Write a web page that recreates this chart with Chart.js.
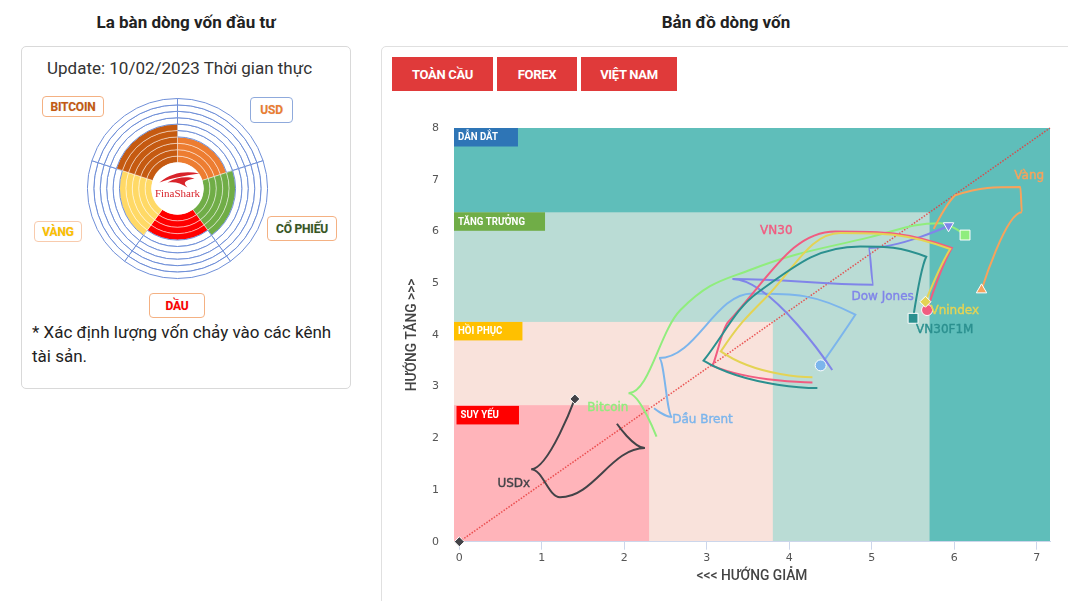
<!DOCTYPE html>
<html lang="vi">
<head>
<meta charset="utf-8">
<title>Bản đồ dòng vốn</title>
<script src="https://cdn.jsdelivr.net/npm/chart.js@4.4.1/dist/chart.umd.min.js"></script>
<style>
  html, body { margin: 0; padding: 0; background: #fff; }
  body { width: 1068px; height: 601px; overflow: hidden; position: relative; font-family: Roboto, "Noto Sans", sans-serif; color: #222; }
  .title { position: absolute; top: 12px; font-size: 17px; font-weight: 700; color: #222; text-align: center; }
  .panel { position: absolute; border: 1px solid #d9d9d9; border-radius: 5px; box-sizing: border-box; }
  .tag { position: absolute; box-sizing: border-box; border: 1.5px solid #f4b183; border-radius: 4px; background: #fff;
         font-size: 12px; font-weight: 700; display: flex; align-items: center; justify-content: center; letter-spacing: -0.2px;
         text-shadow: 0 0 1px rgba(0,0,0,.2); }
  .btn { position: absolute; top: 57px; height: 34px; background: #e03a3a; color: #fff; font-size: 13px; font-weight: 700;
         display: flex; align-items: center; justify-content: center; letter-spacing: -0.3px; }
  canvas { position: absolute; }
</style>
</head>
<body>
<div class="title" style="left:21px;width:330px">La bàn dòng vốn đầu tư</div>
<div class="title" style="left:381px;width:690px">Bản đồ dòng vốn</div>

<div class="panel" style="left:21px;top:46px;width:330px;height:343px"></div>
<div style="position:absolute;left:47px;top:58px;font-size:17px;color:#333">Update: 10/02/2023 Thời gian thực</div>
<canvas id="compass" width="181" height="181" style="left:87px;top:98px"></canvas>
<div class="tag" style="left:42px;top:96px;width:62px;height:21px;color:#c55a11">BITCOIN</div>
<div class="tag" style="left:250px;top:97px;width:43px;height:26px;color:#ed7d31;border-color:#8faadc">USD</div>
<div class="tag" style="left:267px;top:216px;width:70px;height:25px;color:#375623">CỔ PHIẾU</div>
<div class="tag" style="left:149px;top:293px;width:56px;height:25px;color:#ff0000">DẦU</div>
<div class="tag" style="left:34px;top:221px;width:48px;height:21px;color:#ffc000;border-color:#f8cbad">VÀNG</div>
<div style="position:absolute;left:32px;top:320px;font-size:17px;line-height:24px;color:#222">* Xác định lượng vốn chảy vào các kênh<br>tài sản.</div>

<div class="panel" style="left:381px;top:46px;width:700px;height:600px;border-color:#e0e0e0"></div>
<div class="btn" style="left:392px;width:101px">TOÀN CẦU</div>
<div class="btn" style="left:497px;width:80px">FOREX</div>
<div class="btn" style="left:581px;width:96px">VIỆT NAM</div>
<canvas id="flow" width="687" height="501" style="left:381px;top:100px"></canvas>

<script>
// ---- compass data ----
const compassLabels = ['USD', 'CỔ PHIẾU', 'DẦU', 'VÀNG', 'BITCOIN'];
const compassLevels = [4, 5, 4, 5, 6];
const compassRingCount = 10;
const compassColors = ['#ed7d31', '#70ad47', '#ff0000', '#ffd966', '#c55a11'];

// ---- flow map data ----
const xTicks = [0, 1, 2, 3, 4, 5, 6, 7];
const yTicks = [0, 1, 2, 3, 4, 5, 6, 7, 8];
const xMin = -0.065, xMax = 7.16, yMin = 0, yMax = 8;

const zoneNames = ['DẪN DẮT', 'TĂNG TRƯỞNG', 'HỒI PHỤC', 'SUY YẾU'];
const zoneXMax = [7.16, 5.7, 3.8, 2.3];
const zoneYMax = [8, 6.37, 4.25, 2.64];

const diagonal = [[0, 0], [7.16, 8]];

const seriesNames = ['Dầu Brent', 'USDx', 'Bitcoin', 'Vàng', 'Dow Jones', 'VN30', 'Vnindex', 'VN30F1M'];
const dauBrent = [[2.36, 2.58], [2.58, 2.41], [2.42, 3.55], [3.55, 4.80], [4.80, 4.39], [4.38, 3.41]];
const usdx     = [[1.91, 2.28], [2.25, 1.81], [1.22, 0.86], [0.87, 1.40], [1.40, 2.76]];
const bitcoin  = [[2.39, 2.03], [2.05, 2.87], [2.68, 4.48], [3.53, 5.26], [4.98, 5.89], [5.83, 6.16], [6.13, 5.93]];
const vang     = [[5.75, 6.05], [6.01, 6.70], [6.80, 6.86], [6.82, 6.37], [6.33, 4.87]];
const dowJones = [[4.52, 3.32], [3.31, 5.08], [5.02, 4.97], [4.96, 5.68], [5.93, 6.11]];
const vn30     = [[4.28, 3.08], [3.07, 3.40], [3.26, 4.25], [4.56, 6.00], [5.97, 5.68], [5.67, 4.48]];
const vnindex  = [[4.28, 3.18], [3.17, 3.68], [3.69, 4.68], [4.62, 5.97], [5.95, 5.66], [5.65, 4.64]];
const vn30f1m  = [[4.34, 2.97], [2.96, 3.50], [3.61, 4.81], [4.86, 5.71], [5.66, 5.51], [5.50, 4.32]];
const seriesData = [dauBrent, usdx, bitcoin, vang, dowJones, vn30, vnindex, vn30f1m];

// styles (kept apart from the values)
const seriesColors = ['#7cb5ec', '#434348', '#90ed7d', '#f7a35c', '#8085e9', '#f15c80', '#e4d354', '#2b908f'];
const markerStyle = [
  { style: 'circle', r: 5.5, rot: 0 }, { style: 'rectRot', r: 5, rot: 0 }, { style: 'rect', r: 7, rot: 0 },
  { style: 'triangle', r: 6, rot: 0 }, { style: 'triangle', r: 6, rot: 180 }, { style: 'circle', r: 5.5, rot: 0 },
  { style: 'rectRot', r: 5.5, rot: 0 }, { style: 'rect', r: 7, rot: 0 }
];
// label anchored to a point index, offset in px
const labelPlace = [
  { at: 1, dx: 0, dy: 3, align: 'left' }, { at: 3, dx: -1, dy: 15, align: 'right' },
  { at: 1, dx: 0, dy: 15, align: 'right' }, { at: 2, dx: -6, dy: -11, align: 'left' },
  { at: 2, dx: -22, dy: 12, align: 'left' }, { at: 3, dx: -43, dy: -1, align: 'right' },
  { at: 5, dx: 5, dy: 9, align: 'left' }, { at: 5, dx: 3, dy: 12, align: 'left' }
];
const zoneFill = ['#5fbeba', '#badcd5', '#f9e2db', '#ffb4ba'];
const zoneTag = ['#2e75b6', '#70ad47', '#ffc000', '#ff0000'];
const zoneInset = [0, 0, 0, 2.5];

// ---------- compass ----------
const logoPlugin = {
  id: 'logo',
  afterDraw(chart) {
    const arc = chart.getDatasetMeta(compassRingCount - 1).data[0];
    const cx = arc.x, cy = arc.y, r = arc.innerRadius;
    const ctx = chart.ctx;
    ctx.save();
    ctx.fillStyle = '#fff';
    ctx.beginPath(); ctx.arc(cx, cy, r, 0, Math.PI * 2); ctx.fill();
    ctx.fillStyle = '#d8232a';
    ctx.beginPath();
    ctx.moveTo(cx - 18, cy - 6);
    ctx.bezierCurveTo(cx - 6, cy - 16, cx + 8, cy - 18, cx + 22, cy - 15);
    ctx.bezierCurveTo(cx + 8, cy - 13, cx - 4, cy - 11, cx - 18, cy - 6);
    ctx.fill();
    ctx.beginPath();
    ctx.moveTo(cx - 10, cy - 6);
    ctx.bezierCurveTo(cx, cy - 12, cx + 10, cy - 12, cx + 17, cy - 10);
    ctx.bezierCurveTo(cx + 7, cy - 8, cx + 5, cy - 6, cx + 10, cy - 1);
    ctx.bezierCurveTo(cx + 3, cy - 6, cx - 3, cy - 7, cx - 10, cy - 6);
    ctx.fill();
    ctx.font = '11px "Liberation Serif"';
    ctx.textAlign = 'center';
    ctx.textBaseline = 'middle';
    ctx.fillText('FinaShark', cx, cy + 6);
    ctx.restore();
  }
};

const compassDatasets = [];
for (let d = 0; d < compassRingCount; d++) {
  const ring = compassRingCount - 1 - d;   // 0 = innermost ring
  compassDatasets.push({
    data: compassLabels.map(() => 1),
    backgroundColor: compassLevels.map((v, j) => ring < v ? compassColors[j] : '#ffffff'),
    borderColor: compassLevels.map((v) => ring < v ? 'rgba(255,255,255,0.45)' : '#6f8fd8'),
    borderWidth: 1,
    hoverBorderWidth: 1,
    hoverOffset: 0
  });
}

new Chart(document.getElementById('compass'), {
  type: 'doughnut',
  data: { labels: compassLabels, datasets: compassDatasets },
  options: {
    responsive: false, animation: false, events: [],
    cutout: 26,
    plugins: { legend: { display: false }, tooltip: { enabled: false } }
  },
  plugins: [logoPlugin]
});

// ---------- flow map ----------
const zonePlugin = {
  id: 'zones',
  beforeDraw(chart) {
    const { ctx, chartArea: a, scales: { x, y } } = chart;
    ctx.save();
    zoneNames.forEach((name, i) => {
      const right = Math.min(x.getPixelForValue(zoneXMax[i]), a.right);
      const top = Math.max(y.getPixelForValue(zoneYMax[i]), a.top);
      ctx.fillStyle = zoneFill[i];
      ctx.fillRect(a.left, top, right - a.left, a.bottom - top);
    });
    ctx.font = 'bold 11.5px Roboto';
    ctx.textBaseline = 'middle';
    zoneNames.forEach((name, i) => {
      const top = Math.max(y.getPixelForValue(zoneYMax[i]), a.top) + zoneInset[i] * 0.3;
      const left = a.left + zoneInset[i];
      const w = ctx.measureText(name).width * 0.84 + 24;
      ctx.fillStyle = zoneTag[i];
      ctx.fillRect(left, top, w, 18.5);
      ctx.fillStyle = '#fff';
      ctx.save();
      ctx.translate(left + 4, top + 9.5);
      ctx.scale(0.84, 1);
      ctx.fillText(name, 0, 0);
      ctx.restore();
    });
    ctx.restore();
  }
};

// spline control points in the manner of the original chart (cusps where the path turns back)
const splinePlugin = {
  id: 'spline',
  beforeDatasetDraw(chart, args) {
    const line = args.meta.dataset;
    if (!line || !line.options.tension) return;
    const pts = args.meta.data;
    const sm = 1.5, den = sm + 1;
    pts.forEach(p => { p.cp1x = p.cp2x = p.x; p.cp1y = p.cp2y = p.y; });
    for (let i = 1; i < pts.length - 1; i++) {
      const a = pts[i - 1], p = pts[i], b = pts[i + 1];
      const lx = (sm * p.x + a.x) / den, rx = (sm * p.x + b.x) / den;
      let ly = (sm * p.y + a.y) / den, ry = (sm * p.y + b.y) / den;
      let c = 0;
      if (rx !== lx) c = (ry - ly) * (rx - p.x) / (rx - lx) + p.y - ry;
      ly += c; ry += c;
      if (ly > a.y && ly > p.y) { ly = Math.max(a.y, p.y); ry = 2 * p.y - ly; }
      else if (ly < a.y && ly < p.y) { ly = Math.min(a.y, p.y); ry = 2 * p.y - ly; }
      if (ry > b.y && ry > p.y) { ry = Math.max(b.y, p.y); ly = 2 * p.y - ry; }
      else if (ry < b.y && ry < p.y) { ry = Math.min(b.y, p.y); ly = 2 * p.y - ry; }
      p.cp1x = lx; p.cp1y = ly; p.cp2x = rx; p.cp2y = ry;
    }
    line._pointsUpdated = true;
    line._path = undefined;
  }
};

const labelPlugin = {
  id: 'seriesLabels',
  afterDatasetsDraw(chart) {
    const ctx = chart.ctx;
    ctx.save();
    ctx.font = '12px "DejaVu Sans"';
    ctx.textBaseline = 'middle';
    seriesNames.forEach((name, k) => {
      const pl = labelPlace[k];
      const p = chart.getDatasetMeta(k).data[pl.at];
      ctx.fillStyle = seriesColors[k];
      ctx.strokeStyle = seriesColors[k];
      ctx.lineWidth = 0.4;
      ctx.textAlign = pl.align;
      ctx.fillText(name, p.x + pl.dx, p.y + pl.dy);
      ctx.strokeText(name, p.x + pl.dx, p.y + pl.dy);
    });
    ctx.restore();
  }
};

const datasets = seriesNames.map((name, k) => {
  const n = seriesData[k].length;
  const m = markerStyle[k];
  return {
    label: name,
    data: seriesData[k].map(p => ({ x: p[0], y: p[1] })),
    borderColor: seriesColors[k],
    backgroundColor: seriesColors[k],
    borderWidth: 2,
    tension: 0.4,
    fill: false,
    clip: 10,
    pointStyle: m.style,
    pointRotation: m.rot,
    pointRadius: c => c.dataIndex === n - 1 ? m.r : 0,
    pointBackgroundColor: seriesColors[k],
    pointBorderColor: '#ffffff',
    pointBorderWidth: 1,
    order: 20 - k
  };
});
datasets.push({
  label: 'diagonal',
  data: diagonal.map(p => ({ x: p[0], y: p[1] })),
  borderColor: 'rgba(232,60,60,0.85)',
  borderWidth: 1.5,
  borderDash: [1.5, 1.5],
  tension: 0,
  fill: false,
  clip: 10,
  pointStyle: 'rectRot',
  pointRadius: c => c.dataIndex === 0 ? 5 : 0,
  pointBackgroundColor: '#434348',
  pointBorderColor: '#ffffff',
  pointBorderWidth: 1,
  order: 100
});

const tickFont = { family: 'DejaVu Sans', size: 11 };
const titleFont = { family: 'Roboto', size: 13.8, weight: '500' };

new Chart(document.getElementById('flow'), {
  type: 'line',
  data: { datasets },
  options: {
    responsive: false, animation: false, events: [],
    layout: { padding: { top: 28, right: 18, left: 0, bottom: 0 } },
    plugins: { legend: { display: false }, tooltip: { enabled: false } },
    scales: {
      x: {
        type: 'linear', min: xMin, max: xMax,
        afterBuildTicks: s => { s.ticks = xTicks.map(v => ({ value: v })); },
        afterFit: s => { s.height = 59.3; },
        grid: { drawOnChartArea: false, drawTicks: true, tickLength: 8, color: '#ccd6eb' },
        border: { display: true, color: '#ccd6eb' },
        ticks: { color: '#555', padding: 2, font: tickFont, maxRotation: 0, autoSkip: false },
        title: { display: true, text: '<<< HƯỚNG GIẢM', color: '#444', font: titleFont, padding: { top: 0, bottom: 15.7 } }
      },
      y: {
        type: 'linear', min: yMin, max: yMax,
        afterBuildTicks: s => { s.ticks = yTicks.map(v => ({ value: v })); },
        afterFit: s => { s.width = 73; },
        grid: { display: false, drawTicks: false },
        border: { display: false },
        ticks: { color: '#555', padding: 15, font: tickFont, autoSkip: false },
        title: { display: true, text: 'HƯỚNG TĂNG >>>', color: '#444', font: titleFont, padding: { top: 23.7, bottom: 0 } }
      }
    }
  },
  plugins: [zonePlugin, splinePlugin, labelPlugin]
});
</script>
</body>
</html>
